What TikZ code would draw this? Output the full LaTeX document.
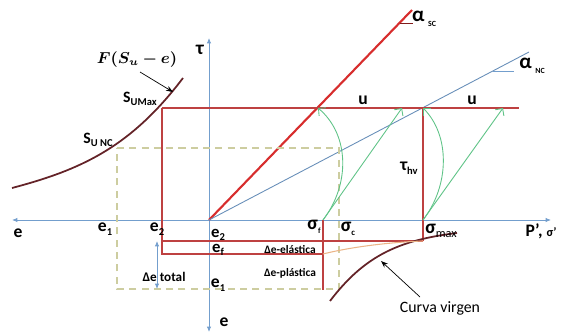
\documentclass[tikz,border=0pt]{standalone}
\usepackage{fontspec}
\setmainfont{Carlito}
\usepackage{amsmath,bm}
\usetikzlibrary{arrows.meta, positioning}

\definecolor{axisblue}{RGB}{115,158,205}
\definecolor{scred}{RGB}{215,45,45}
\definecolor{framered}{RGB}{190,65,65}
\definecolor{arrowgreen}{RGB}{95,195,135}
\definecolor{dashkhaki}{RGB}{205,205,160}
\definecolor{curvebrown}{RGB}{100,35,40}
\definecolor{curveorange}{RGB}{235,180,135}

\newcommand{\lowsub}[1]{\raisebox{-0.45ex}{\fontsize{6}{7}\selectfont #1}}

\begin{document}
\begin{tikzpicture}[
    x=0.02cm, y=-0.02cm,
    axis/.style={draw=axisblue, line width=0.5pt, {Latex[length=3pt,width=2.5pt]}-{Latex[length=3pt,width=2.5pt]}},
    frame/.style={draw=framered, line width=0.6pt},
    slope/.style={line width=0.5pt},
    guide/.style={draw=dashkhaki, line width=0.6pt, dash pattern=on 4pt off 3pt},
    path/.style={draw=arrowgreen, line width=0.5pt, -{Straight Barb[length=3pt]}},
    lbl/.style={font=\fontsize{10}{12}\selectfont\bfseries, inner sep=1pt},
    small/.style={font=\fontsize{6.5}{8}\selectfont\bfseries, inner sep=1pt}
]
\useasboundingbox (0,0) rectangle (561,333);

% Points
\coordinate (O) at (209,220);
\coordinate (xL) at (12,220);
\coordinate (xR) at (551,220);
\coordinate (yT) at (209,38);
\coordinate (yB) at (209,332);
\coordinate (scEnd) at (412,10);
\coordinate (ncEnd) at (529,52);
\coordinate (suMax) at (162,108);
\coordinate (suNc) at (117,148);
\coordinate (uEnd) at (519,108);
\coordinate (uSc) at (318,108);
\coordinate (uSf) at (402,108);
\coordinate (uMax) at (423,108);
\coordinate (uTip) at (503,108);
\coordinate (sf) at (323,220);
\coordinate (smax) at (423,220);

% Axes
\draw[axis] (xL) -- (xR);
\draw[axis] (yT) -- (yB);

% Failure lines
\draw[slope, draw=scred, line width=1.2pt] (O) -- (scEnd);
\draw[slope, draw=axisblue!90!black] (O) -- (ncEnd);
\draw[slope, draw=scred!60!black, line width=0.4pt] (400,23) -- (413,23);
\draw[slope, draw=axisblue, line width=0.4pt] (493,71) -- (514,71);

% Dashed guide box
\draw[guide] (suNc) -- (339,148) -- (339,289) -- (117,289) -- cycle;

% Red frame
\draw[frame] (suMax) -- (uEnd);
\draw[frame] (suMax) -- (162,254) -- (sf |- 0,254);
\draw[frame] (162,241) -- (smax |- 0,241);
\draw[frame] (sf) -- (323,290);
\draw[frame] (uMax) -- (423,241);

% Curves
\draw[draw=curvebrown, line width=1pt] (12,188) .. controls (80,170) and (130,148) .. (183,78);
\draw[draw=curvebrown, line width=1pt] (330,301) .. controls (365,255) and (400,240) .. (457,233);
\draw[draw=curveorange, line width=0.6pt] (323,254) .. controls (355,246) and (395,242) .. (423,241);

% Stress paths
\draw[path] (sf) .. controls (350,185) and (350,135) .. (uSc);
\draw[path] (sf) -- (uSf);
\draw[path] (smax) .. controls (450,185) and (450,135) .. (uMax);
\draw[path] (smax) -- (uTip);

% Delta e total
\draw[draw=axisblue, line width=0.5pt, {Latex[length=3pt,width=2.5pt]}-{Latex[length=3pt,width=2.5pt]}] (157,241) -- (157,289);

% Labels
\node[font=\fontsize{11}{12}\selectfont\bfseries] (tau) at (200,50) {τ};
\node[lbl] (eLeft) at (18,233) {e};
\node[lbl] (eOne) at (105,229) {e\lowsub{1}};
\node[lbl] (eTwo) at (157,229) {e\lowsub{2}};
\node[lbl, font=\fontsize{9.5}{10}\selectfont\bfseries] (eTwoR) at (218,235) {e\lowsub{2}};
\node[lbl, font=\fontsize{9.5}{10}\selectfont\bfseries] (eF) at (218,250) {e\lowsub{f}};
\node[lbl] (eOneR) at (218,285) {e\lowsub{1}};
\node[lbl] (eBot) at (224,322) {e};
\node[lbl] (pAxis) at (541,231) {P’, \fontsize{7}{8}\selectfont σ’};
\node[lbl, font=\fontsize{9}{10}\selectfont\bfseries] (suMaxL) at (140,99) {S\lowsub{UMax}};
\node[lbl, font=\fontsize{9}{10}\selectfont\bfseries] (suNcL) at (98,140) {S\lowsub{U NC}};
\node[inner sep=1pt, font=\fontsize{9}{10}\selectfont] (fLabel) at (137,60) {$\bm{F(S_u-e)}$};
\draw[-{Stealth[length=4pt]}, line width=0.4pt] (fLabel.south) ++(3,2) -- (173,92);
\node[lbl] (uOne) at (363,100) {u};
\node[lbl] (uTwo) at (472,100) {u};
\node[font=\fontsize{12}{12}\selectfont\bfseries, inner sep=0pt] (aSc) at (424,19) {α\,\lowsub{\fontsize{4.5}{5}\selectfont SC}};
\node[font=\fontsize{12}{12}\selectfont\bfseries, inner sep=0pt] (aNc) at (532,66) {α\,\lowsub{\fontsize{4.5}{5}\selectfont NC}};
\node[lbl, font=\fontsize{11}{12}\selectfont\bfseries] (sfL) at (314,227) {σ\lowsub{\fontsize{4.5}{5}\selectfont f}};
\node[lbl, font=\fontsize{11}{12}\selectfont\bfseries] (scL) at (348,229) {σ\lowsub{\fontsize{5}{5}\selectfont c}};
\node[lbl, font=\fontsize{11}{12}\selectfont\bfseries] (smaxL) at (441,231) {σ\lowsub{\fontsize{7}{8}\selectfont\mdseries max}};
\node[lbl] (tauHv) at (409,168) {τ\lowsub{hv}};
\node[small] (dElas) at (290,250) {Δe-elástica};
\node[small] (dPlas) at (290,273) {Δe-plástica};
\node[small, font=\fontsize{7.5}{8}\selectfont\bfseries] (dTot) at (164,277) {Δe total};
\node[font=\fontsize{9}{10}\selectfont, inner sep=1pt] (virgen) at (440,308) {Curva virgen};
\draw[-{Stealth[length=4pt]}, line width=0.4pt] (420,297) -- (381,261);

\end{tikzpicture}
\end{document}
